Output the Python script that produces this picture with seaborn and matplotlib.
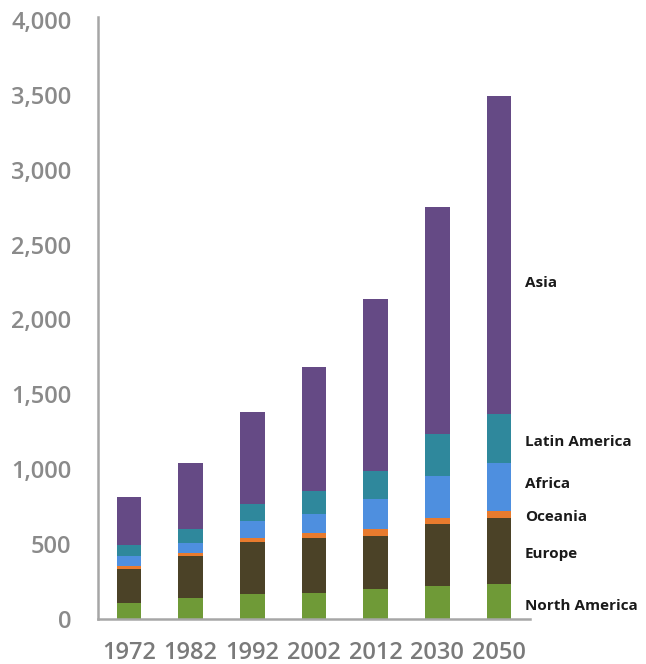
import numpy as np
import pandas as pd
import seaborn as sns
import matplotlib.pyplot as plt
from matplotlib.ticker import FuncFormatter

sns.set_theme(style="white")
plt.rcParams["font.family"] = ["Open Sans", "DejaVu Sans"]

# data
years = ["1972", "1982", "1992", "2002", "2012", "2030", "2050"]
regions = ["North America", "Europe", "Oceania", "Africa", "Latin America", "Asia"]
north_america = [107, 140, 167, 174, 201, 221, 234]
europe = [227, 281, 348, 368, 352, 414, 442]
oceania = [20, 20, 27, 33, 49, 41, 46]
africa = [67, 67, 114, 127, 201, 281, 321]
latin_america = [74, 94, 113, 154, 187, 280, 328]
asia = [321, 441, 616, 830, 1144, 1513, 2119]

# where the region names sit on the right (data units)
label_y = [87, 435, 682, 903, 1184, 2244]

colors = ["#6f9a37", "#4b4227", "#e87b2e", "#4e8fdf", "#2f889c", "#654a85"]

series = [north_america, europe, oceania, africa, latin_america, asia]
df = pd.DataFrame({"year": years})
for name, vals in zip(regions, series):
    df[name] = vals

fig = plt.figure(figsize=(6.46, 6.64), dpi=100)
ax = fig.add_axes([0.1517, 0.0678, 0.6687, 0.9066])

bottom = np.zeros(len(years))
for name, col in zip(regions, colors):
    sns.barplot(data=df, x="year", y=name, color=col, saturation=1,
                width=0.4, bottom=bottom, ax=ax, linewidth=0)
    bottom = bottom + df[name].to_numpy()

ax.set_xlim(-0.5, 6.5)
ax.set_ylim(0, 4020)
ax.set_yticks(np.arange(0, 4001, 500))
ax.yaxis.set_major_formatter(FuncFormatter(lambda v, p: f"{int(v):,}"))
ax.set_xlabel("")
ax.set_ylabel("")

for s in ["top", "right"]:
    ax.spines[s].set_visible(False)
for s in ["left", "bottom"]:
    ax.spines[s].set_color("#a6a6a6")
    ax.spines[s].set_linewidth(1.8)

ax.tick_params(axis="y", length=0, pad=19, labelsize=17, labelcolor="#8a8a8a")
ax.tick_params(axis="x", length=0, pad=16, labelsize=17, labelcolor="#7a7a7a")
for t in ax.get_yticklabels() + ax.get_xticklabels():
    t.set_fontweight("semibold")

for name, y in zip(regions, label_y):
    ax.text(6.42, y, name, fontsize=11, fontweight="bold", color="#1a1a1a",
            va="center", ha="left", clip_on=False)

fig.savefig("out.png", dpi=100)
